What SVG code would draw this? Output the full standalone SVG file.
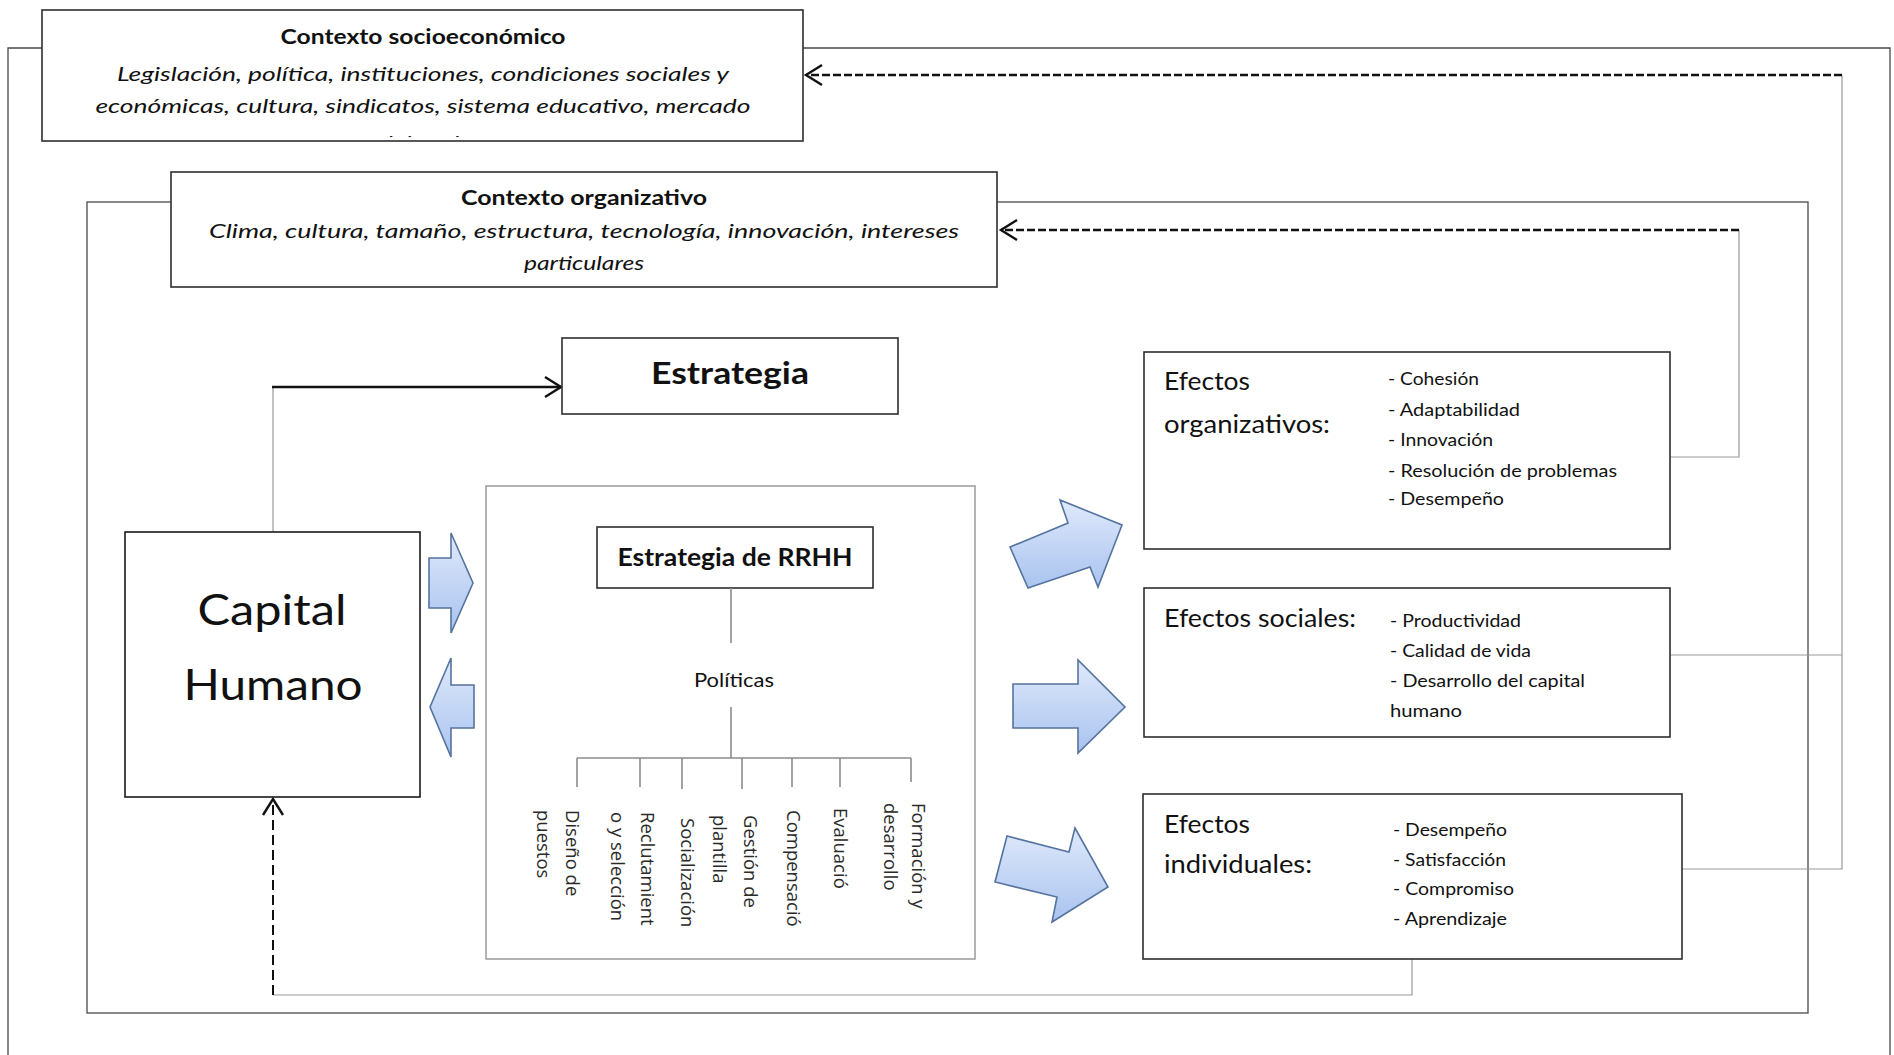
<svg xmlns="http://www.w3.org/2000/svg" width="1894" height="1055" viewBox="0 0 1894 1055">
  <style>
    .frame { fill: none; stroke: #4a4a4a; stroke-width: 1.3; }
    .box { fill: #ffffff; stroke: #2e2e2e; stroke-width: 1.6; }
    .softbox { fill: #ffffff; stroke: #9a9a9a; stroke-width: 1.5; }
    .thin { fill: none; stroke: #9a9a9a; stroke-width: 1.2; }
    .dash { fill: none; stroke: #111; stroke-width: 2.6; stroke-dasharray: 8 3; }
    .dashv { fill: none; stroke: #111; stroke-width: 2; stroke-dasharray: 10 5; }
    .solid { fill: none; stroke: #111; stroke-width: 2.6; }
    .tree { fill: none; stroke: #8c8c8c; stroke-width: 1.6; }
    .blk { fill: url(#blueFill); stroke: #55739f; stroke-width: 1.6; stroke-linejoin: miter; }
    text { font-family: "Lato", "Open Sans", "Liberation Sans", sans-serif; fill: #111; }
    .ttl { font-weight: bold; font-size: 20px; text-anchor: middle; }
    .ital { font-style: italic; font-size: 20px; text-anchor: middle; }
    .big { font-size: 42px; text-anchor: middle; }
    .head { font-size: 25px; }
    .item { font-size: 17px; }
    .pol { font-family: "Open Sans", "DejaVu Sans", sans-serif; font-size: 18.5px; fill: #2a2a2a; }
  </style>
  <defs>
    <linearGradient id="blueFill" x1="0" y1="0" x2="0" y2="1">
      <stop offset="0" stop-color="#dfe9fb"/>
      <stop offset="1" stop-color="#a9c3ef"/>
    </linearGradient>
    <marker id="chev" viewBox="-19 -12 22 24" markerWidth="22" markerHeight="24" refX="0" refY="0" orient="auto" markerUnits="userSpaceOnUse">
      <path d="M-16,-10 L0,0 L-16,10" fill="none" stroke="#111" stroke-width="2.4"/>
    </marker>
    <clipPath id="socioClip">
      <rect x="42" y="10" width="761" height="127"/>
    </clipPath>
  </defs>

  <!-- outer socio-economic frame and inner organisational frame -->
  <g id="frames">
    <path class="frame" d="M8,1060 V48 H1890 V1060"/>
    <rect class="frame" x="87" y="202" width="1721" height="811"/>
  </g>

  <!-- connectors -->
  <g id="connectors">
    <path class="thin" d="M1670,655 H1842"/>
    <path class="thin" d="M1682,869 H1842 V75"/>
    <path class="thin" d="M1670,457 H1739 V230"/>
    <path class="thin" d="M1412,959 V995 H273"/>
    <path class="thin" d="M273,532 V387"/>
    <path class="dash" d="M1842,75 H806" marker-end="url(#chev)"/>
    <path class="dash" d="M1739,230 H1001" marker-end="url(#chev)"/>
    <path class="dashv" d="M273,995 V799" marker-end="url(#chev)"/>
    <path class="solid" d="M272,387 H561" marker-end="url(#chev)"/>
    <!-- block arrows -->
    <polygon class="blk" points="429,558 451,558 451,533 473,583 451,633 451,608 429,608"/>
    <polygon class="blk" points="474,685 451,685 451,658 430,707 451,757 451,728 474,728"/>
    <polygon class="blk" points="1010,547 1068,523 1060,500 1122,525 1098,587 1090,567 1028,588"/>
    <polygon class="blk" points="1013,684 1078,684 1078,660 1125,707 1078,753 1078,728 1013,728"/>
    <polygon class="blk" points="1007,836 1069,852 1075,828 1108,887 1052,922 1057,897 995,882"/>
  </g>

  <g id="contexto-socioeconomico">
    <rect class="box" x="42" y="10" width="761" height="131"/>
    <text class="ttl" x="423" y="44" textLength="285" lengthAdjust="spacingAndGlyphs">Contexto socioeconómico</text>
    <text class="ital" x="423" y="81" textLength="612" lengthAdjust="spacingAndGlyphs">Legislación, política, instituciones, condiciones sociales y</text>
    <text class="ital" x="423" y="113" textLength="655" lengthAdjust="spacingAndGlyphs">económicas, cultura, sindicatos, sistema educativo, mercado</text>
    <text class="ital" x="423" y="150" textLength="72" lengthAdjust="spacingAndGlyphs" clip-path="url(#socioClip)">laboral</text>
  </g>

  <g id="contexto-organizativo">
    <rect class="box" x="171" y="172" width="826" height="115"/>
    <text class="ttl" x="584" y="205" textLength="246" lengthAdjust="spacingAndGlyphs">Contexto organizativo</text>
    <text class="ital" x="584" y="238" textLength="750" lengthAdjust="spacingAndGlyphs">Clima, cultura, tamaño, estructura, tecnología, innovación, intereses</text>
    <text class="ital" x="584" y="270" textLength="120" lengthAdjust="spacingAndGlyphs">particulares</text>
  </g>

  <g id="estrategia">
    <rect class="box" x="562" y="338" width="336" height="76"/>
    <text x="730" y="384" font-size="30" font-weight="bold" text-anchor="middle" textLength="158" lengthAdjust="spacingAndGlyphs">Estrategia</text>
  </g>

  <g id="capital-humano">
    <rect class="box" x="125" y="532" width="295" height="265" style="stroke:#1a1a1a"/>
    <text class="big" x="272" y="625" textLength="149" lengthAdjust="spacingAndGlyphs">Capital</text>
    <text class="big" x="273" y="700" textLength="179" lengthAdjust="spacingAndGlyphs">Humano</text>
  </g>

  <g id="politicas">
    <rect class="softbox" x="486" y="486" width="489" height="473"/>
    <g id="estrategia-rrhh">
      <rect class="box" x="597" y="527" width="276" height="61"/>
      <text x="735" y="566" font-size="24" font-weight="bold" text-anchor="middle" textLength="235" lengthAdjust="spacingAndGlyphs">Estrategia de RRHH</text>
    </g>
    <text x="734" y="687" font-size="20" text-anchor="middle" textLength="80" lengthAdjust="spacingAndGlyphs">Políticas</text>
    <path class="tree" d="M731,588 V643 M731,707 V758 M577,758 H911 M577,758 V787 M640,758 V787 M682,758 V789 M742,758 V789 M792,758 V787 M840,758 V787 M911,758 V782"/>
    <text class="pol" transform="translate(566,810) rotate(90)"><tspan x="0" y="0">Diseño de</tspan><tspan x="0" y="29">puestos</tspan></text>
    <text class="pol" transform="translate(641,812) rotate(90)"><tspan x="0" y="0">Reclutamient</tspan><tspan x="0" y="30">o y selección</tspan></text>
    <text class="pol" transform="translate(681,818) rotate(90)">Socialización</text>
    <text class="pol" transform="translate(744,815) rotate(90)"><tspan x="0" y="0">Gestión de</tspan><tspan x="0" y="31">plantilla</tspan></text>
    <text class="pol" transform="translate(787,810) rotate(90)">Compensació</text>
    <text class="pol" transform="translate(834,808) rotate(90)">Evaluació</text>
    <text class="pol" transform="translate(912,803) rotate(90)"><tspan x="0" y="0">Formación y</tspan><tspan x="0" y="28">desarrollo</tspan></text>
  </g>

  <g id="efectos-organizativos">
    <rect class="box" x="1144" y="352" width="526" height="197"/>
    <text class="head" x="1164" y="390" textLength="86" lengthAdjust="spacingAndGlyphs">Efectos</text>
    <text class="head" x="1164" y="433" textLength="166" lengthAdjust="spacingAndGlyphs">organizativos:</text>
    <text class="item" x="1388" y="385" textLength="91" lengthAdjust="spacingAndGlyphs">- Cohesión</text>
    <text class="item" x="1388" y="416" textLength="132" lengthAdjust="spacingAndGlyphs">- Adaptabilidad</text>
    <text class="item" x="1388" y="446" textLength="105" lengthAdjust="spacingAndGlyphs">- Innovación</text>
    <text class="item" x="1388" y="477" textLength="229" lengthAdjust="spacingAndGlyphs">- Resolución de problemas</text>
    <text class="item" x="1388" y="505" textLength="116" lengthAdjust="spacingAndGlyphs">- Desempeño</text>
  </g>

  <g id="efectos-sociales">
    <rect class="box" x="1144" y="588" width="526" height="149"/>
    <text class="head" x="1164" y="627" textLength="192" lengthAdjust="spacingAndGlyphs">Efectos sociales:</text>
    <text class="item" x="1390" y="627" textLength="131" lengthAdjust="spacingAndGlyphs">- Productividad</text>
    <text class="item" x="1390" y="657" textLength="141" lengthAdjust="spacingAndGlyphs">- Calidad de vida</text>
    <text class="item" x="1390" y="687" textLength="195" lengthAdjust="spacingAndGlyphs">- Desarrollo del capital</text>
    <text class="item" x="1390" y="717" textLength="72" lengthAdjust="spacingAndGlyphs">humano</text>
  </g>

  <g id="efectos-individuales">
    <rect class="box" x="1143" y="794" width="539" height="165"/>
    <text class="head" x="1164" y="833" textLength="86" lengthAdjust="spacingAndGlyphs">Efectos</text>
    <text class="head" x="1164" y="873" textLength="148" lengthAdjust="spacingAndGlyphs">individuales:</text>
    <text class="item" x="1393" y="836" textLength="114" lengthAdjust="spacingAndGlyphs">- Desempeño</text>
    <text class="item" x="1393" y="866" textLength="113" lengthAdjust="spacingAndGlyphs">- Satisfacción</text>
    <text class="item" x="1393" y="895" textLength="121" lengthAdjust="spacingAndGlyphs">- Compromiso</text>
    <text class="item" x="1393" y="925" textLength="114" lengthAdjust="spacingAndGlyphs">- Aprendizaje</text>
  </g>
</svg>
